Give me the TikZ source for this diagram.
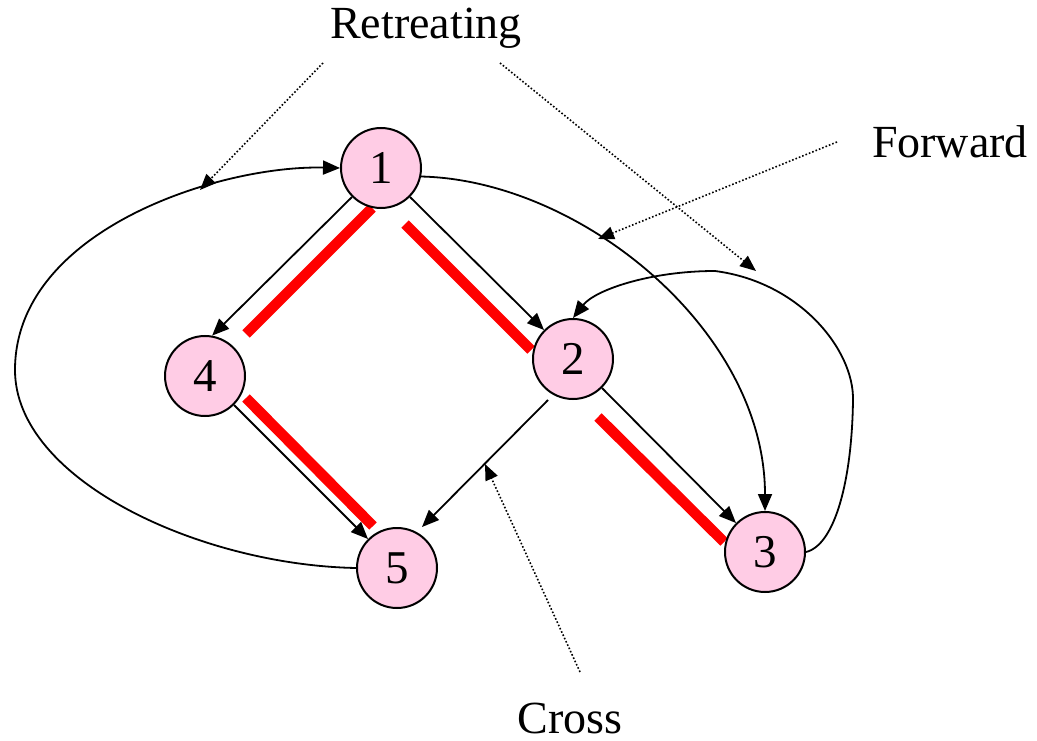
\documentclass[tikz,border=0pt]{standalone}
\usepackage{fontspec}
\setmainfont{Liberation Serif}
\usetikzlibrary{arrows.meta}
\definecolor{nodepink}{RGB}{255,204,229}

\begin{document}
\begin{tikzpicture}[x=1pt, y=-1pt,
		vertex/.style={draw, circle, fill=nodepink, line width=2pt, minimum size=80pt, inner sep=0pt, font=\fontsize{47}{50}\selectfont},
		edge/.style={line width=1.8pt, -{Triangle[length=17pt,width=14pt]}},
		hint/.style={dotted, line width=1.6pt, -{Triangle[length=16pt,width=13pt]}},
		tree/.style={red, line width=10.5pt},
		lbl/.style={anchor=base, font=\fontsize{46}{50}\selectfont}]
		\useasboundingbox (0,0) rectangle (1037,741);

		% tree edges
		\draw[tree] (246,334) -- (372,208);
		\draw[tree] (405,224) -- (531,350);
		\draw[tree] (246,398) -- (373,526);
		\draw[tree] (598,417) -- (724,542);

		\node[vertex] (v1) at (381,168) {1};
		\node[vertex] (v2) at (573,359) {2};
		\node[vertex] (v3) at (765,552) {3};
		\node[vertex] (v4) at (205,376) {4};
		\node[vertex] (v5) at (397,568) {5};

		\draw[edge] (v1.225) -- (v4.80);
		\draw[edge] (v1.315) -- (v2.135);
		\draw[edge] (v2.315) -- (v3.135);
		\draw[edge] (v4.315) -- (v5.135);
		\draw[edge] ([shift={(-25,41)}]v2.center) -- ([shift={(25,-41)}]v5.center);
		\draw[edge] (v1.-12) .. controls (580,180) and (765,330) .. (v3.north);
		\draw[edge] (v3.east) .. controls (835,545) and (852,480) .. (853,400)
			.. controls (854,350) and (800,282) .. (715,271)
			.. controls (650,271) and (595,290) .. (v2.north);
		\draw[edge] (v5.west) .. controls (200,565) and (15,480) .. (15,370)
			.. controls (15,230) and (220,165) .. (v1.west);

		\node[lbl] (retreat) at (426,39) {Retreating};
		\node[lbl] (forward) at (950,158) {Forward};
		\node[lbl] (cross) at (570,733) {Cross};

		\coordinate (r1) at (323,63);
		\coordinate (r2) at (500,63);
		\coordinate (f1) at (837,142);
		\coordinate (c1) at (580,672);
		\draw[hint] (r1) -- (200,190);
		\draw[hint] (r2) -- (756,271);
		\draw[hint] (f1) -- (598,239);
		\draw[hint] (c1) -- (485,464);


	\end{tikzpicture}
\end{document}
